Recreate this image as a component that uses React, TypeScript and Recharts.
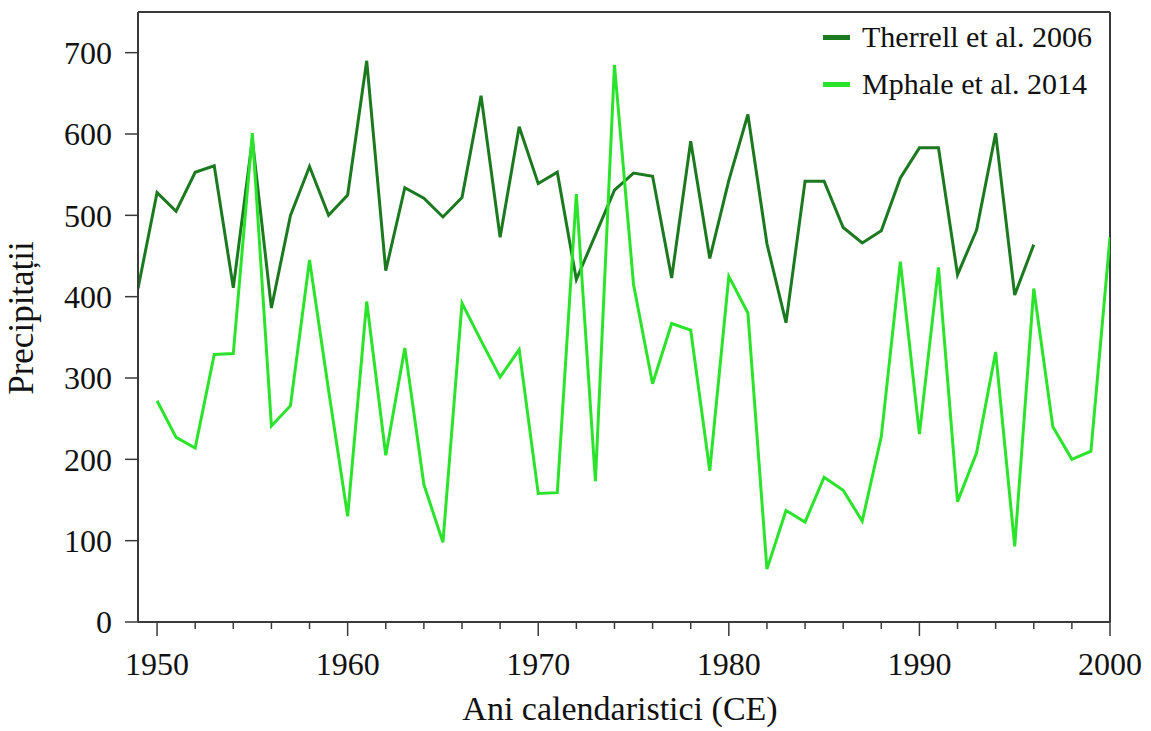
import React from "react";
import {
  LineChart,
  Line,
  XAxis,
  YAxis,
  Legend,
  ReferenceLine,
} from "recharts";

const years = [
  1949, 1950, 1951, 1952, 1953, 1954, 1955, 1956, 1957, 1958, 1959, 1960, 1961,
  1962, 1963, 1964, 1965, 1966, 1967, 1968, 1969, 1970, 1971, 1972, 1973, 1974,
  1975, 1976, 1977, 1978, 1979, 1980, 1981, 1982, 1983, 1984, 1985, 1986, 1987,
  1988, 1989, 1990, 1991, 1992, 1993, 1994, 1995, 1996, 1997, 1998, 1999, 2000,
];

// Therrell et al. 2006: 1949-1996
const therrell = [
  410, 528, 505, 553, 561, 411, 593, 386, 500, 560, 500, 525, 690, 432, 534,
  521, 498, 522, 647, 473, 609, 539, 553, 421, 476, 531, 552, 548, 423, 591,
  447, 543, 624, 465, 368, 542, 542, 485, 466, 481, 546, 583, 583, 427, 482,
  601, 402, 464,
];

// Mphale et al. 2014: 1950-2000
const mphale = [
  272, 227, 214, 329, 330, 601, 241, 266, 445, 285, 130, 394, 205, 337, 169, 98,
  392, 346, 301, 335, 158, 159, 526, 173, 685, 415, 293, 367, 359, 186, 425,
  380, 65, 137, 123, 178, 162, 124, 228, 443, 231, 436, 148, 208, 332, 93, 410,
  240, 200, 210, 473,
];

const xTicks = [
  1950, 1952, 1954, 1956, 1958, 1960, 1962, 1964, 1966, 1968, 1970, 1972, 1974,
  1976, 1978, 1980, 1982, 1984, 1986, 1988, 1990, 1992, 1994, 1996, 1998, 2000,
];
const yTicks = [0, 100, 200, 300, 400, 500, 600, 700];

const seriesNames = ["Therrell et al. 2006", "Mphale et al. 2014"];
const DARK = "#1b7a1f";
const BRIGHT = "#2be32b";
const AXIS = "#3a3a3a";
const FONT = "'Liberation Serif', 'Times New Roman', serif";

const data = years.map((year) => {
  const ti = year - 1949;
  const mi = year - 1950;
  return {
    year,
    therrell: ti >= 0 && ti < therrell.length ? therrell[ti] : null,
    mphale: mi >= 0 && mi < mphale.length ? mphale[mi] : null,
  };
});

function YearTick(props: any) {
  const { x, y, payload } = props;
  const major = payload.value % 10 === 0;
  return (
    <g>
      <line
        x1={x}
        x2={x}
        y1={y}
        y2={y + (major ? 14 : 7)}
        stroke={AXIS}
        strokeWidth={1.5}
      />
      {major && (
        <text
          x={x}
          y={y + 30}
          dy="0.71em"
          textAnchor="middle"
          fontFamily={FONT}
          fontSize={32}
          fill="#111"
        >
          {payload.value}
        </text>
      )}
    </g>
  );
}

function XTitle() {
  return (
    <text
      x={620}
      y={720}
      textAnchor="middle"
      fontFamily={FONT}
      fontSize={34}
      fill="#111"
    >
      Ani calendaristici (CE)
    </text>
  );
}

function YTitle() {
  return (
    <text
      x={33}
      y={318}
      transform="rotate(-90, 33, 318)"
      textAnchor="middle"
      fontFamily={FONT}
      fontSize={35}
      fill="#111"
    >
      Precipitații
    </text>
  );
}

function LegendBox() {
  const colors = [DARK, BRIGHT];
  return (
    <div style={{ fontFamily: FONT, fontSize: 30, color: "#111" }}>
      {seriesNames.map((name, i) => (
        <div
          key={name}
          style={{ height: 47, lineHeight: "47px", whiteSpace: "nowrap" }}
        >
          <span
            style={{
              display: "inline-block",
              width: 27,
              height: 5,
              background: colors[i],
              verticalAlign: "middle",
              marginRight: 12,
              position: "relative",
              top: -3,
            }}
          />
          {name}
        </div>
      ))}
    </div>
  );
}

export default function App() {
  return (
    <div style={{ position: "absolute", left: 0, top: 0, background: "#fff" }}>
      <LineChart
        width={1151}
        height={731}
        data={data}
        margin={{ top: 12, right: 41, bottom: 0, left: 0 }}
      >
        <XAxis
          dataKey="year"
          type="number"
          domain={[1949, 2000]}
          ticks={xTicks}
          interval={0}
          height={109}
          tickSize={0}
          tickMargin={0}
          tickLine={false}
          tick={<YearTick />}
          axisLine={{ stroke: AXIS, strokeWidth: 2 }}
          label={<XTitle />}
          allowDataOverflow
        />
        <YAxis
          type="number"
          domain={[0, 750]}
          ticks={yTicks}
          interval={0}
          width={138}
          tickSize={13}
          tickMargin={13}
          tickLine={{ stroke: AXIS, strokeWidth: 1.5 }}
          axisLine={{ stroke: AXIS, strokeWidth: 2 }}
          tick={{ fill: "#111", fontSize: 32, fontFamily: FONT }}
          label={<YTitle />}
        />
        <ReferenceLine y={750} stroke={AXIS} strokeWidth={2} />
        <ReferenceLine x={2000} stroke={AXIS} strokeWidth={2} />
        <Legend
          layout="vertical"
          align="center"
          verticalAlign="middle"
          wrapperStyle={{ left: 823, top: 13, width: 320 }}
          content={<LegendBox />}
        />
        <Line
          dataKey="therrell"
          name={seriesNames[0]}
          stroke={DARK}
          strokeWidth={3}
          dot={false}
          isAnimationActive={false}
        />
        <Line
          dataKey="mphale"
          name={seriesNames[1]}
          stroke={BRIGHT}
          strokeWidth={3}
          dot={false}
          isAnimationActive={false}
        />
      </LineChart>
    </div>
  );
}
